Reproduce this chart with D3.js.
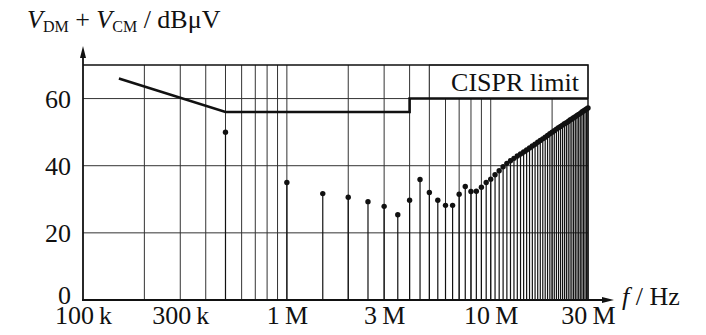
<!DOCTYPE html>
<html>
<head>
<meta charset="utf-8">
<script src="https://cdn.jsdelivr.net/npm/d3@7"></script>
<style>
  html, body { margin: 0; padding: 0; background: #fff; }
  svg text { font-family: "Liberation Serif", "DejaVu Serif", serif; fill: #111; }
</style>
</head>
<body>
<div id="chart"></div>
<script>
// harmonic spectrum vs. CISPR limit

const harmonicFreqMHz = [
  0.5, 1, 1.5, 2, 2.5, 3, 3.5, 4, 4.5, 5,
  5.5, 6, 6.5, 7, 7.5, 8, 8.5, 9, 9.5, 10,
  10.5, 11, 11.5, 12, 12.5, 13, 13.5, 14, 14.5, 15,
  15.5, 16, 16.5, 17, 17.5, 18, 18.5, 19, 19.5, 20,
  20.5, 21, 21.5, 22, 22.5, 23, 23.5, 24, 24.5, 25,
  25.5, 26, 26.5, 27, 27.5, 28, 28.5, 29, 29.5, 30
];
const harmonicLevel = [
  50.0, 35.0, 31.7, 30.6, 29.3, 27.9, 25.4, 29.7, 35.9, 32.0,
  29.7, 28.2, 28.2, 31.5, 33.8, 32.3, 32.4, 33.6, 35.0, 36.0,
  37.3, 38.5, 39.7, 40.7, 41.5, 42.2, 42.9, 43.5, 44.1, 44.7,
  45.3, 45.9, 46.4, 47.0, 47.5, 48.0, 48.5, 49.0, 49.5, 50.0,
  50.4, 50.9, 51.3, 51.7, 52.1, 52.5, 52.8, 53.2, 53.6, 53.9,
  54.3, 54.6, 55.0, 55.3, 55.6, 56.0, 56.3, 56.6, 56.9, 57.2
];

const limitFreqHz = [150e3, 500e3, 4e6, 4e6, 30e6];
const limitLevel = [66, 56, 56, 60, 60];

const xTickValues = [1e5, 3e5, 1e6, 3e6, 1e7, 3e7];
const xTickLabels = ['100\u2009k', '300\u2009k', '1\u2009M', '3\u2009M', '10\u2009M', '30\u2009M'];
const yTickValues = [0, 20, 40, 60];

const W = 706, H = 335;
const plot = { left: 83, right: 588, top: 65, bottom: 300 };
const FONT = 26;

const svg = d3.select('#chart').append('svg')
  .attr('width', W)
  .attr('height', H);

const x = d3.scaleLog().domain([1e5, 3e7]).range([plot.left, plot.right]);
const y = d3.scaleLinear().domain([0, 70]).range([plot.bottom, plot.top]);

// grid lines
const gridX = [];
[1e5, 1e6, 1e7].forEach(dec => {
  for (let m = 1; m <= 9; m++) {
    const f = dec * m;
    if (f > 1e5 && f < 3e7) gridX.push(f);
  }
});

const grid = svg.append('g');
grid.selectAll('line.vx')
  .data(gridX)
  .join('line')
  .attr('x1', d => x(d)).attr('x2', d => x(d))
  .attr('y1', plot.bottom).attr('y2', plot.top)
  .attr('stroke', '#333')
  .attr('stroke-width', 1);

grid.selectAll('line.hy')
  .data([20, 40, 60])
  .join('line')
  .attr('x1', plot.left).attr('x2', plot.right)
  .attr('y1', d => y(d)).attr('y2', d => y(d))
  .attr('stroke', '#333')
  .attr('stroke-width', 1);

// label box covering grid above 60 dB
svg.append('rect')
  .attr('x', x(5e6))
  .attr('y', y(70))
  .attr('width', x(3e7) - x(5e6))
  .attr('height', y(60) - y(70))
  .attr('fill', '#fff')
  .attr('stroke', '#333')
  .attr('stroke-width', 1);

svg.append('text')
  .attr('x', x(3e7) - 9)
  .attr('y', y(60) - 8)
  .attr('text-anchor', 'end')
  .attr('font-size', FONT)
  .text('CISPR limit');

// frame top / right
svg.append('path')
  .attr('d', `M${plot.left},${plot.top}H${plot.right}V${plot.bottom}`)
  .attr('fill', 'none')
  .attr('stroke', '#111')
  .attr('stroke-width', 1.4);

// harmonic stems
const harm = harmonicFreqMHz.map((f, i) => ({ f: f * 1e6, v: harmonicLevel[i] }));

svg.append('g').selectAll('line')
  .data(harm)
  .join('line')
  .attr('x1', d => x(d.f)).attr('x2', d => x(d.f))
  .attr('y1', y(0)).attr('y2', d => y(d.v))
  .attr('stroke', '#111')
  .attr('stroke-width', 1.2);

svg.append('g').selectAll('circle')
  .data(harm)
  .join('circle')
  .attr('cx', d => x(d.f))
  .attr('cy', d => y(d.v))
  .attr('r', 2.7)
  .attr('fill', '#111');

// CISPR limit line
const limitLine = d3.line()
  .x(d => x(d[0]))
  .y(d => y(d[1]));

svg.append('path')
  .datum(limitFreqHz.map((f, i) => [f, limitLevel[i]]))
  .attr('d', limitLine)
  .attr('fill', 'none')
  .attr('stroke', '#111')
  .attr('stroke-width', 2.6);

// axes with arrows
svg.append('line')
  .attr('x1', plot.left).attr('x2', plot.left)
  .attr('y1', plot.bottom + 1).attr('y2', 56)
  .attr('stroke', '#111').attr('stroke-width', 1.8);
svg.append('path')
  .attr('d', `M${plot.left},46L${plot.left - 3},58L${plot.left + 3},58Z`)
  .attr('fill', '#111');

svg.append('line')
  .attr('x1', plot.left - 1).attr('x2', 604)
  .attr('y1', plot.bottom).attr('y2', plot.bottom)
  .attr('stroke', '#111').attr('stroke-width', 1.8);
svg.append('path')
  .attr('d', `M614,${plot.bottom}L602,${plot.bottom - 3}L602,${plot.bottom + 3}Z`)
  .attr('fill', '#111');

// tick labels
const xAxis = d3.axisBottom(x)
  .tickValues(xTickValues)
  .tickFormat((d, i) => xTickLabels[i])
  .tickSize(0)
  .tickPadding(0);

const gx = svg.append('g')
  .attr('transform', `translate(0,${plot.bottom})`)
  .call(xAxis);
gx.select('.domain').remove();
gx.selectAll('text')
  .attr('font-size', FONT)
  .attr('font-family', null)
  .attr('dy', null)
  .attr('y', 24)
  .attr('fill', '#111');

const yAxis = d3.axisLeft(y)
  .tickValues(yTickValues)
  .tickSize(0)
  .tickPadding(12);

const gy = svg.append('g')
  .attr('transform', `translate(${plot.left},0)`)
  .call(yAxis);
gy.select('.domain').remove();
gy.selectAll('text')
  .attr('font-size', FONT)
  .attr('font-family', null)
  .attr('dy', '0.35em')
  .attr('y', d => d === 0 ? -6 : 0)
  .attr('fill', '#111');

// axis titles
const yTitle = svg.append('text')
  .attr('x', 27)
  .attr('y', 28)
  .attr('font-size', FONT);
yTitle.append('tspan').attr('font-style', 'italic').text('V');
yTitle.append('tspan').attr('font-size', 16).attr('dy', 4).text('DM');
yTitle.append('tspan').attr('dy', -4).text(' + ');
yTitle.append('tspan').attr('font-style', 'italic').text('V');
yTitle.append('tspan').attr('font-size', 16).attr('dy', 4).text('CM');
yTitle.append('tspan').attr('dy', -4).text(' / dBμV');

const xTitle = svg.append('text')
  .attr('x', 622)
  .attr('y', 305)
  .attr('font-size', FONT);
xTitle.append('tspan').attr('font-style', 'italic').text('f');
xTitle.append('tspan').text(' / Hz');
</script>
</body>
</html>
